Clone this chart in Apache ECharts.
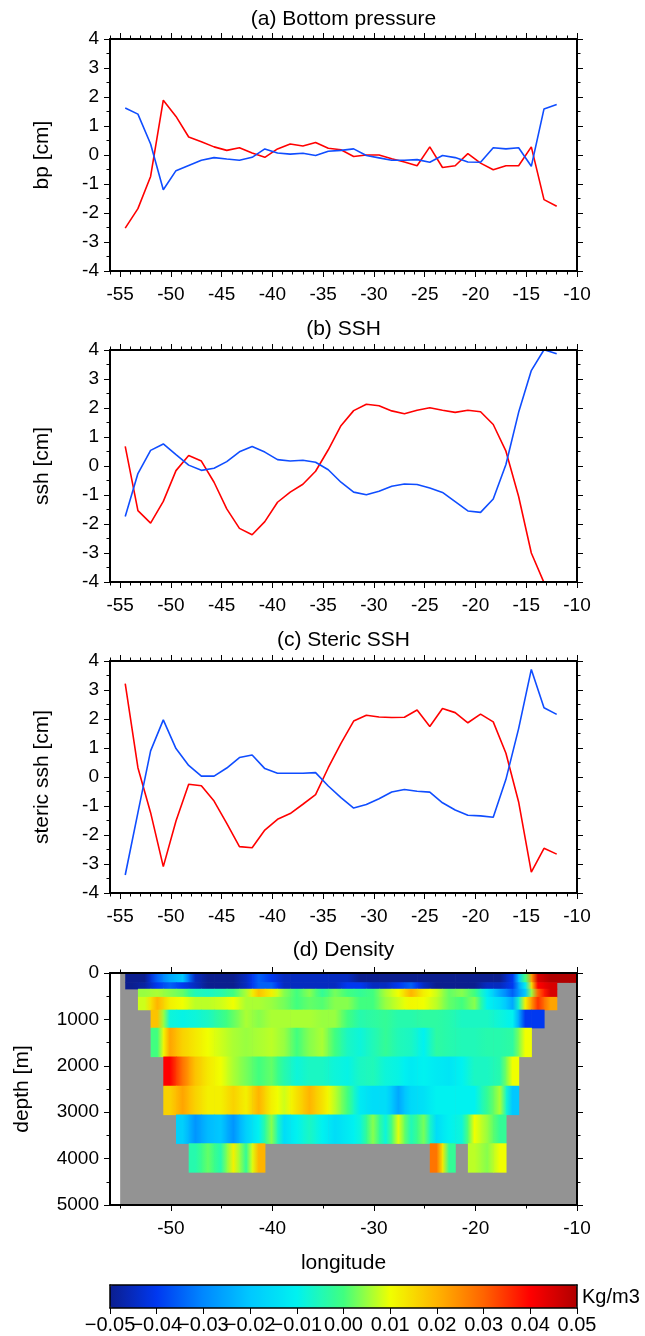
<!DOCTYPE html>
<html>
<head>
<meta charset="utf-8">
<script src="https://cdn.jsdelivr.net/npm/echarts@6/dist/echarts.min.js"></script>
<style>
  html, body { margin: 0; padding: 0; background: #fff; }
  #chart { width: 645px; height: 1336px; }
</style>
</head>
<body>
<div id="chart"></div>
<script>
// section longitudes (deg)
const lon = [-54.5, -53.25, -52, -50.75, -49.5, -48.25, -47, -45.75, -44.5, -43.25, -42, -40.75,
  -39.5, -38.25, -37, -35.75, -34.5, -33.25, -32, -30.75, -29.5, -28.25, -27, -25.75, -24.5,
  -23.25, -22, -20.75, -19.5, -18.25, -17, -15.75, -14.5, -13.25, -12]

// (a) bottom pressure [cm]
const bpRed = [-2.52, -1.85, -0.74, 1.89, 1.33, 0.62, 0.46, 0.28, 0.16, 0.25, 0.07, -0.08, 0.21,
  0.38, 0.31, 0.43, 0.23, 0.18, -0.05, 0.0, 0.0, -0.13, -0.24, -0.37, 0.28, -0.43, -0.37, 0.05,
  -0.28, -0.51, -0.37, -0.37, 0.28, -1.54, -1.77]
const bpBlue = [1.62, 1.41, 0.38, -1.2, -0.54, -0.36, -0.18, -0.09, -0.14, -0.18, -0.08, 0.21, 0.07,
  0.03, 0.06, -0.02, 0.13, 0.16, 0.21, -0.02, -0.1, -0.18, -0.18, -0.16, -0.25, -0.02, -0.09, -0.24,
  -0.25, 0.25, 0.21, 0.25, -0.39, 1.59, 1.74]

// (b) ssh [cm]
const sshRed = [0.68, -1.54, -1.97, -1.22, -0.16, 0.36, 0.17, -0.56, -1.48, -2.15, -2.37, -1.92,
  -1.25, -0.9, -0.63, -0.18, 0.56, 1.39, 1.91, 2.13, 2.08, 1.9, 1.8, 1.92, 2.01, 1.92, 1.85, 1.92,
  1.87, 1.43, 0.51, -1.05, -3.0, -4.02, -4.9]
const sshBlue = [-1.74, -0.26, 0.54, 0.76, 0.39, 0.03, -0.15, -0.08, 0.15, 0.49, 0.67, 0.48, 0.22,
  0.17, 0.2, 0.13, -0.13, -0.56, -0.9, -0.99, -0.87, -0.7, -0.62, -0.64, -0.76, -0.91, -1.23, -1.55,
  -1.6, -1.14, 0.05, 1.85, 3.29, 4.01, 3.87]

// (c) steric ssh [cm]
const stericRed = [3.22, 0.32, -1.23, -3.09, -1.52, -0.25, -0.3, -0.83, -1.6, -2.4, -2.44, -1.83,
  -1.46, -1.26, -0.94, -0.61, 0.32, 1.16, 1.93, 2.13, 2.07, 2.05, 2.06, 2.31, 1.74, 2.36, 2.22, 1.87,
  2.17, 1.9, 0.82, -0.86, -3.28, -2.46, -2.66]
const stericBlue = [-3.38, -1.23, 0.9, 1.97, 0.98, 0.4, 0.03, 0.03, 0.31, 0.67, 0.76, 0.29, 0.13,
  0.13, 0.13, 0.15, -0.31, -0.71, -1.07, -0.95, -0.75, -0.52, -0.43, -0.49, -0.52, -0.89, -1.14,
  -1.32, -1.34, -1.39, -0.08, 1.67, 3.71, 2.39, 2.16]

// (d) density anomaly [Kg/m3]: cell edges and one row per depth layer
const lonEdges = [-54.5, -53.25, -52, -50.75, -49.5, -48.25, -47, -45.75, -44.5, -43.25, -42,
  -40.75, -39.5, -38.25, -37, -35.75, -34.5, -33.25, -32, -30.75, -29.5, -28.25, -27, -25.75,
  -24.5, -23.25, -22, -20.75, -19.5, -18.25, -17, -15.75, -14.5, -13.25, -12, -10.75, -10]
const depthEdges = [0, 200, 340, 515, 790, 1180, 1800, 2430, 3050, 3670, 4290]
const _ = null
const rhoA1 = [-0.05, -0.05, -0.035, -0.025, -0.02, -0.045, -0.05, -0.05, -0.05, -0.045,
  -0.035, -0.04, -0.045, -0.045, -0.045, -0.045, -0.045, -0.045, -0.05, -0.05,
  -0.05, -0.05, -0.05, -0.05, -0.05, -0.05, -0.05, -0.05, -0.05, -0.05,
  -0.04, 0.0, 0.045, 0.05, 0.05, 0.05]
const rhoA2 = [-0.05, -0.048, -0.04, -0.035, -0.04, -0.045, -0.05, -0.05, -0.05, -0.045,
  -0.035, -0.035, -0.045, -0.045, -0.045, -0.045, -0.045, -0.04, -0.04, -0.045,
  -0.045, -0.04, -0.035, -0.045, -0.05, -0.05, -0.05, -0.05, -0.045, -0.045,
  -0.04, -0.012, 0.04, 0.045, _, _]
const rhoB = [_, 0.005, 0.006, 0.004, 0.002, -0.005, -0.006, -0.004, 0.0, 0.006,
  0.018, 0.012, 0.004, 0.0, 0.004, -0.002, 0.003, 0.0, -0.002, 0.0,
  0.006, 0.01, 0.02, 0.012, 0.008, 0.002, 0.004, 0.0, -0.012, -0.025,
  -0.035, -0.02, 0.03, 0.045, _, _]
const rhoC = [_, 0.008, 0.02, 0.012, 0.01, 0.007, 0.007, 0.008, 0.01, 0.006,
  0.006, 0.005, 0.003, 0.0, 0.002, 0.001, 0.004, 0.004, 0.0, 0.0,
  0.005, 0.008, 0.011, 0.01, 0.007, 0.002, 0.0, 0.004, -0.01, -0.015,
  -0.025, 0.012, 0.035, 0.022, _, _]
const rhoD = [_, _, 0.018, -0.008, -0.009, -0.008, -0.006, -0.002, 0.002, 0.006,
  0.004, 0.006, 0.006, 0.006, 0.006, 0.005, 0.005, 0.0, -0.004, -0.003,
  -0.002, -0.004, -0.004, -0.003, -0.003, -0.004, -0.006, -0.006, -0.006, -0.008,
  -0.01, -0.04, -0.04, _, _, _]
const rhoE = [_, _, 0.0, 0.022, 0.016, 0.013, 0.01, 0.008, 0.006, 0.005,
  0.006, 0.007, 0.005, 0.0, 0.004, 0.006, 0.0, -0.006, -0.008, -0.005,
  -0.002, -0.005, -0.006, -0.01, -0.003, -0.004, -0.005, -0.005, -0.004, -0.004,
  -0.003, 0.01, _, _, _, _]
const rhoF = [_, _, _, 0.04, 0.028, 0.018, 0.013, 0.01, 0.006, 0.003,
  0.0, 0.002, -0.004, -0.008, -0.006, -0.006, -0.008, -0.009, -0.006, -0.005,
  -0.008, -0.009, -0.012, -0.01, -0.012, -0.013, -0.01, -0.006, -0.006, -0.004,
  0.01, _, _, _, _, _]
const rhoG = [_, _, _, 0.016, 0.022, 0.016, 0.012, 0.012, 0.016, 0.012,
  0.02, 0.012, 0.008, 0.014, 0.02, 0.014, 0.007, 0.0, -0.012, -0.015,
  -0.015, -0.025, -0.016, -0.014, -0.01, -0.01, -0.01, -0.01, -0.002, 0.006,
  -0.02, _, _, _, _, _]
const rhoH = [_, _, _, _, -0.018, -0.028, -0.022, -0.02, -0.028, -0.018,
  -0.01, 0.004, -0.015, -0.01, -0.006, -0.01, -0.015, -0.012, -0.008, 0.004,
  -0.008, 0.009, -0.005, 0.003, -0.015, -0.01, -0.008, 0.01, 0.005, -0.002,
  _, _, _, _, _, _]
const rhoI = [_, _, _, _, _, -0.004, 0.002, -0.004, 0.012, -0.002,
  0.02, _, _, _, _, _, _, _, _, _,
  _, _, _, _, 0.028, -0.002, _, 0.007, 0.004, 0.01,
  _, _, _, _, _, _]
const densRows = [rhoA1, rhoA2, rhoB, rhoC, rhoD, rhoE, rhoF, rhoG, rhoH, rhoI]

// tick labels
const lonMajor = [-55, -50, -45, -40, -35, -30, -25, -20, -15, -10]
const densLonMajor = [-50, -40, -30, -20, -10]
const densLonMinor = [-55, -45, -35, -25, -15]
const cbarTicks = [-0.05, -0.04, -0.03, -0.02, -0.01, 0.0, 0.01, 0.02, 0.03, 0.04, 0.05]
const cbarColors = ['#0b1e8f', '#0038f0', '#0088ff', '#00c8ff', '#00f2f0', '#40ff80',
  '#f0ff00', '#ffb400', '#ff6400', '#ff0000', '#b00000']

const FONT = 'Liberation Sans'
const lonMinor = []
for (let v = -56; v <= -10; v++) lonMinor.push(v)

function hexRgb (h) {
  return [parseInt(h.substr(1, 2), 16), parseInt(h.substr(3, 2), 16), parseInt(h.substr(5, 2), 16)]
}
function rhoColor (v) {
  let t = (v - cbarTicks[0]) / 0.01
  t = Math.max(0, Math.min(10, t))
  let i = Math.min(9, Math.floor(t))
  let f = t - i
  let a = hexRgb(cbarColors[i])
  let b = hexRgb(cbarColors[i + 1])
  return 'rgb(' + a.map(function (c, k) { return Math.round(c + (b[k] - c) * f) }).join(',') + ')'
}

const cells = []
densRows.forEach(function (row, r) {
  row.forEach(function (v, c) {
    if (v === null) return
    let vl = row[c - 1]
    let vr = row[c + 1]
    cells.push([lonEdges[c], lonEdges[c + 1], depthEdges[r], depthEdges[r + 1], v,
      vl == null ? v : (v + vl) / 2, vr == null ? v : (v + vr) / 2])
  })
})

const frameLine = { show: true, onZero: false, lineStyle: { color: '#000', width: 2 } }
const thinFrame = { show: true, onZero: false, lineStyle: { color: '#000', width: 1.5 } }
const tickStyle = { color: '#000', width: 1 }
const labelStyle = { color: '#000', fontSize: 19, fontFamily: FONT }
const nameStyle = { color: '#000', fontSize: 21, fontFamily: FONT }

function xAxes (gi, min, max, major, minor, extra) {
  let out = []
  ;['bottom', 'top'].forEach(function (pos) {
    out.push(Object.assign({
      type: 'value', gridIndex: gi, position: pos, min: min, max: max, z: 10,
      axisLine: frameLine, splitLine: { show: false },
      axisTick: { show: true, customValues: major, length: 6, lineStyle: tickStyle },
      axisLabel: pos === 'bottom'
        ? Object.assign({ show: true, customValues: major, margin: 14, showMinLabel: true, showMaxLabel: true }, labelStyle)
        : { show: false }
    }, pos === 'bottom' ? extra : {}))
    out.push({
      type: 'value', gridIndex: gi, position: pos, min: min, max: max, z: 10,
      axisLine: { show: false, onZero: false }, splitLine: { show: false }, axisLabel: { show: false },
      axisTick: { show: true, customValues: minor, length: 3.5, lineStyle: tickStyle }
    })
  })
  return out
}

function yAxes (gi, min, max, interval, name, nameGap, inverse) {
  let base = {
    type: 'value', gridIndex: gi, min: min, max: max, interval: interval, inverse: !!inverse, z: 10,
    axisLine: frameLine, splitLine: { show: false },
    axisTick: { show: true, length: 6, lineStyle: tickStyle },
    minorTick: { show: true, splitNumber: 2, length: 3.5, lineStyle: tickStyle },
    minorSplitLine: { show: false }
  }
  return [
    Object.assign({}, base, {
      position: 'left',
      axisLabel: Object.assign({ show: true, margin: 11, formatter: function (v) { return String(v) } }, labelStyle),
      name: name, nameLocation: 'middle', nameGap: nameGap, nameRotate: 90, nameTextStyle: nameStyle
    }),
    Object.assign({}, base, { position: 'right', axisLabel: { show: false } })
  ]
}

const panelTops = [39, 350, 661, 973]
const grids = panelTops.map(function (t) {
  return { left: 110, top: t, width: 467, height: 232 }
})
grids.push({ left: 110, top: 1285, width: 467, height: 23 })

let xAxis = []
  .concat(xAxes(0, -56, -10, lonMajor, lonMinor, {}))
  .concat(xAxes(1, -56, -10, lonMajor, lonMinor, {}))
  .concat(xAxes(2, -56, -10, lonMajor, lonMinor, {}))
  .concat(xAxes(3, -56, -10, densLonMajor, densLonMinor, {
    name: 'longitude', nameLocation: 'middle', nameGap: 48, nameTextStyle: nameStyle
  }))

// colour bar frame; labels split over two axes so that the overlapping GMT-style labels all show
const cbarLabel = {
  margin: 7, showMinLabel: true, showMaxLabel: true, color: '#000', fontSize: 20, fontFamily: FONT,
  formatter: function (v) { return v.toFixed(2).replace('-', '\u2212') }
}
xAxis.push({
  type: 'value', gridIndex: 4, position: 'bottom', min: -0.05, max: 0.05, z: 10,
  axisLine: thinFrame, splitLine: { show: false },
  axisTick: { show: true, customValues: cbarTicks, length: 6, lineStyle: tickStyle },
  axisLabel: Object.assign({ show: true, customValues: cbarTicks.filter(function (v, i) { return i % 2 === 0 }) }, cbarLabel)
})
xAxis.push({
  type: 'value', gridIndex: 4, position: 'bottom', min: -0.05, max: 0.05, z: 10,
  axisLine: { show: false, onZero: false }, splitLine: { show: false }, axisTick: { show: false },
  axisLabel: Object.assign({ show: true, customValues: cbarTicks.filter(function (v, i) { return i % 2 === 1 }) }, cbarLabel)
})
xAxis.push({
  type: 'value', gridIndex: 4, position: 'top', min: -0.05, max: 0.05, z: 10,
  axisLine: thinFrame, axisTick: { show: false }, axisLabel: { show: false }, splitLine: { show: false }
})

let yAxis = []
  .concat(yAxes(0, -4, 4, 1, 'bp [cm]', 57))
  .concat(yAxes(1, -4, 4, 1, 'ssh [cm]', 57))
  .concat(yAxes(2, -4, 4, 1, 'steric ssh [cm]', 57))
  .concat(yAxes(3, 0, 5000, 1000, 'depth [m]', 77, true))
;['left', 'right'].forEach(function (pos) {
  yAxis.push({
    type: 'value', gridIndex: 4, position: pos, min: 0, max: 1, z: 10,
    axisLine: thinFrame, axisTick: { show: false }, axisLabel: { show: false }, splitLine: { show: false }
  })
})

function lineSeries (gi, values, color) {
  return {
    type: 'line', xAxisIndex: gi * 4, yAxisIndex: gi * 2,
    data: lon.map(function (x, i) { return [x, values[i]] }),
    showSymbol: false, clip: true, z: 3,
    lineStyle: { color: color, width: 1.6 }, itemStyle: { color: color }
  }
}

const RED = '#ff0000'
const BLUE = '#0f4dff'

let series = [
  lineSeries(0, bpRed, RED), lineSeries(0, bpBlue, BLUE),
  lineSeries(1, sshRed, RED), lineSeries(1, sshBlue, BLUE),
  lineSeries(2, stericRed, RED), lineSeries(2, stericBlue, BLUE),
  {
    type: 'custom', xAxisIndex: 12, yAxisIndex: 6, z: 1, silent: true,
    data: [[-55, -10, 0, 5000]],
    renderItem: function (params, api) {
      let p0 = api.coord([api.value(0), api.value(2)])
      let p1 = api.coord([api.value(1), api.value(3)])
      return {
        type: 'rect',
        shape: { x: p0[0], y: p0[1], width: p1[0] - p0[0], height: p1[1] - p0[1] },
        style: { fill: '#939393' }
      }
    }
  },
  {
    type: 'custom', xAxisIndex: 12, yAxisIndex: 6, z: 2, silent: true,
    data: cells,
    renderItem: function (params, api) {
      let p0 = api.coord([api.value(0), api.value(2)])
      let p1 = api.coord([api.value(1), api.value(3)])
      return {
        type: 'rect',
        shape: {
          x: Math.min(p0[0], p1[0]), y: Math.min(p0[1], p1[1]),
          width: Math.abs(p1[0] - p0[0]) + 0.6, height: Math.abs(p1[1] - p0[1]) + 0.6
        },
        style: {
          fill: {
            type: 'linear', x: 0, y: 0, x2: 1, y2: 0,
            colorStops: [
              { offset: 0, color: rhoColor(api.value(5)) },
              { offset: 0.5, color: rhoColor(api.value(4)) },
              { offset: 1, color: rhoColor(api.value(6)) }
            ]
          }
        }
      }
    }
  }
]

const titleStyle = { color: '#000', fontSize: 21, fontWeight: 'normal', fontFamily: FONT }
const titles = [
  ['(a) Bottom pressure', 9], ['(b) SSH', 319], ['(c) Steric SSH', 630], ['(d) Density', 940]
].map(function (t) {
  return { text: t[0], left: 343.5, top: t[1], textAlign: 'center', padding: 0, textStyle: titleStyle }
})
titles.push({ text: 'Kg/m3', left: 582, top: 1287, padding: 0, textStyle: { color: '#000', fontSize: 20, fontWeight: 'normal', fontFamily: FONT } })

const chart = echarts.init(document.getElementById('chart'))
chart.setOption({
  animation: false,
  backgroundColor: '#fff',
  textStyle: { fontFamily: FONT },
  title: titles,
  grid: grids,
  xAxis: xAxis,
  yAxis: yAxis,
  visualMap: {
    type: 'continuous', min: -0.05, max: 0.05, orient: 'horizontal',
    left: 110, top: 1285, itemWidth: 23, itemHeight: 467, padding: 0,
    calculable: false, seriesIndex: 7, dimension: 4,
    inRange: { color: cbarColors }
  },
  series: series
})
</script>
</body>
</html>
